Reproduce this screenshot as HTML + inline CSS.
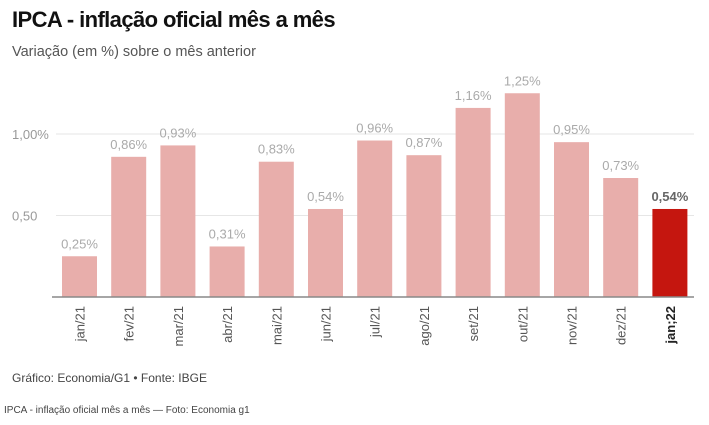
<!DOCTYPE html>
<html><head><meta charset="utf-8"><style>
body{margin:0;background:#fff;width:709px;height:420px;overflow:hidden;font-family:"Liberation Sans",sans-serif}
</style></head><body>
<svg width="709" height="420" xmlns="http://www.w3.org/2000/svg" font-family="Liberation Sans, sans-serif">
<text x="12" y="27" font-size="22" font-weight="bold" fill="#111" letter-spacing="-0.6">IPCA - inflação oficial mês a mês</text>
<text x="12" y="56" font-size="14.5" fill="#555">Variação (em %) sobre o mês anterior</text>
<g id="grid"></g>
<g id="bars"></g>
<line x1="52" x2="694" y1="297" y2="297" stroke="#888" stroke-width="1.5"/>
<g id="xlabels"></g>
<text x="12" y="382" font-size="12" fill="#444">Gráfico: Economia/G1 • Fonte: IBGE</text>
<text x="4" y="413" font-size="10" fill="#444">IPCA - inflação oficial mês a mês — Foto: Economia g1</text>
</svg>
<script>
const categories=["jan/21","fev/21","mar/21","abr/21","mai/21","jun/21","jul/21","ago/21","set/21","out/21","nov/21","dez/21","jan;22"];
const values=[0.25,0.86,0.93,0.31,0.83,0.54,0.96,0.87,1.16,1.25,0.95,0.73,0.54];
const tickValues=[0.5,1.0];
const tickLabels=["0,50","1,00%"];
const NS="http://www.w3.org/2000/svg";
const y=v=>297-v*163;
const x=i=>79.5+i*49.2;
const grid=document.getElementById('grid'),bars=document.getElementById('bars'),xl=document.getElementById('xlabels');
function mk(t,a){const e=document.createElementNS(NS,t);for(const k in a)e.setAttribute(k,a[k]);return e;}
tickValues.forEach((v,i)=>{
 const l=mk('line',{x1:56,x2:694,y1:y(v),y2:y(v),stroke:'#e6e6e6','stroke-width':1});
 
 
 grid.appendChild(l);
 const t=mk('text',{x:12,y:y(v)+5,'font-size':13,fill:'#999'});
 
 
 t.textContent=tickLabels[i];grid.appendChild(t);
});
values.forEach((v,i)=>{
 const last=i===values.length-1;
 const r=mk('rect',{x:x(i)-17.5,y:y(v),width:35,height:297-y(v),fill:last?'#c5160f':'#e8aeab'});
 
 
 bars.appendChild(r);
 const t=mk('text',{x:x(i),y:y(v)-8,'font-size':13,'text-anchor':'middle',fill:last?'#666':'#aaa','font-weight':last?'bold':'normal'});
 
 
 t.textContent=v.toFixed(2).replace('.',',')+'%';bars.appendChild(t);
 const c=mk('text',{x:0,y:0,'font-size':13,'text-anchor':'end',fill:last?'#222':'#555','font-weight':last?'bold':'normal',transform:`translate(${x(i)+5},306) rotate(-90)`});
 
 
 c.textContent=categories[i];xl.appendChild(c);
});
</script>
</body></html>
